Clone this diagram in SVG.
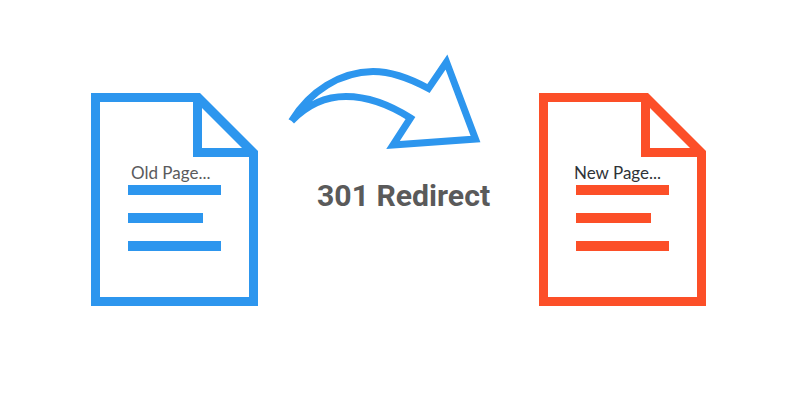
<svg xmlns="http://www.w3.org/2000/svg" width="800" height="400" viewBox="0 0 800 400">
<style>
.blue{fill:#2d96ee}
.red{fill:#fc4f28}
.page{fill-rule:evenodd}
.label{font-family:"Lato","Open Sans",sans-serif;font-size:17px}
</style>
<defs>
<path id="sheet" class="page" d="M91,93H200L258,151V306H91ZM100,102V297H249V157H193V102ZM202,108V148H242Z"/>
<g id="rules">
<rect x="128" y="185" width="93" height="10"/>
<rect x="128" y="213" width="75" height="10"/>
<rect x="128" y="241" width="93" height="10"/>
</g>
</defs>
<rect width="800" height="400" fill="#fff"/>
<g id="old-page" class="blue">
<use href="#sheet"/>
<use href="#rules"/>
<text class="label" x="131" y="179" style="fill:#5a5b5d">Old Page...</text>
</g>
<g id="new-page" class="red">
<use href="#sheet" x="448"/>
<use href="#rules" x="448"/>
<text class="label" x="574" y="179" style="fill:#2f3338">New Page...</text>
</g>
<g id="connectors">
<path d="M291.5,121C310,91 340,72 373,71.5C393,71.5 412,79.5 428.5,88.5L446.5,62L475.5,139L393,145L410.5,118C390,105 367,96.5 346,96.5C325,96.5 308,104 291.5,121" fill="none" stroke="#2d96ee" stroke-width="7" stroke-miterlimit="10"/>
</g>
<text id="redirect-label" x="317" y="206" font-family="Roboto,sans-serif" font-weight="700" font-size="30.2" fill="#5a5a5a">301 Redirect</text>
</svg>
